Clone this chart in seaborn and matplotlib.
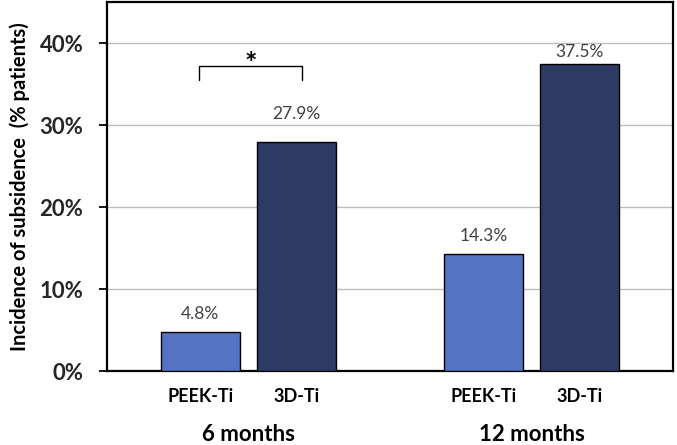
import pandas as pd
import numpy as np
import seaborn as sns
import matplotlib.pyplot as plt
from matplotlib.ticker import PercentFormatter
from matplotlib.transforms import blended_transform_factory

sns.set_theme(style="white")
plt.rcParams['font.family'] = ['Lato', 'DejaVu Sans']

# data
periods = ["6 months", "12 months"]
implants = ["PEEK-Ti", "3D-Ti"]
incidence = {"PEEK-Ti": [4.8, 14.3], "3D-Ti": [27.9, 37.5]}
label_text = ["4.8%", "14.3%", "27.9%", "37.5%"]
label_lift = [13, 13, 20, 8]   # label offset above bar, points

rows = []
for imp in implants:
    for p, v in zip(periods, incidence[imp]):
        rows.append({"period": p, "implant": imp, "value": v})
df = pd.DataFrame(rows)

colors = {"PEEK-Ti": "#5573C3", "3D-Ti": "#2D3A64"}

fig = plt.figure(figsize=(6.77, 4.45), dpi=100)
ax = fig.add_axes([0.158, 0.166, 0.836, 0.8295])

sns.barplot(data=df, x="period", y="value", hue="implant", order=periods,
            hue_order=implants, palette=colors, saturation=1, width=0.68,
            gap=0.18, edgecolor="black", linewidth=1.0, legend=False, ax=ax,
            zorder=3)

ax.set_xlim(-0.5, 1.5)
ax.set_ylim(0, 45)
ax.set_yticks([0, 10, 20, 30, 40])
ax.yaxis.set_major_formatter(PercentFormatter(decimals=0))
ax.grid(axis="y", color="#BDBDBD", linewidth=1.0, zorder=0)
ax.set_axisbelow(True)

for s in ax.spines.values():
    s.set_color("black")
    s.set_linewidth(1.6)

ax.tick_params(axis="y", direction="out", length=6, width=1.3, color="black",
               left=True, pad=11, labelsize=16)
for t in ax.get_yticklabels():
    t.set_fontweight("bold")

# value labels
for bar, txt, lift in zip(ax.patches, label_text, label_lift):
    ax.annotate(txt, (bar.get_x() + bar.get_width() / 2, bar.get_height()),
                xytext=(0, lift), textcoords="offset points", ha="center",
                va="center", fontsize=12.5, color="#404040")

# implant labels under each bar, period labels below
centers = [b.get_x() + b.get_width() / 2 for b in ax.patches]
names = [imp for imp in implants for _ in periods]
ax.set_xticks(centers)
ax.set_xticklabels(names, fontsize=13, fontweight="bold", color="black")
ax.tick_params(axis="x", length=0, pad=12)
ax.set_xlabel("")

trans = blended_transform_factory(ax.transData, ax.transAxes)
for i, p in enumerate(periods):
    ax.text(i, -0.172, p, transform=trans, ha="center", va="center",
            fontsize=16, fontweight="bold", color="black")

ax.set_ylabel("Incidence of subsidence  (% patients)", fontsize=14.5,
              fontweight="bold", color="black", labelpad=7)

# significance bracket
ax.plot([-0.175, -0.175, 0.19, 0.19], [35.5, 37.2, 37.2, 35.5],
        color="black", linewidth=1.0, zorder=4)
ax.text(0.008, 37.5, "*", ha="center", va="center", fontsize=21,
        fontweight="bold", color="black")

fig.savefig("out.png", dpi=100)
